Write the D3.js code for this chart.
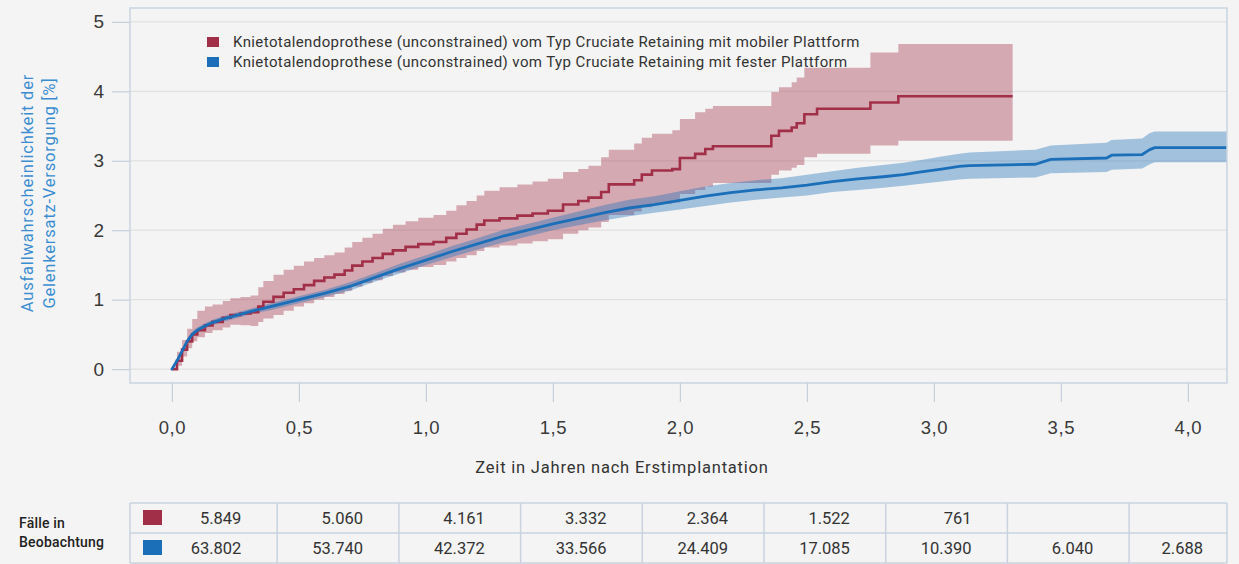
<!DOCTYPE html>
<html>
<head>
<meta charset="utf-8">
<script src="https://cdnjs.cloudflare.com/ajax/libs/d3/7.8.5/d3.min.js"></script>
<style>
  html, body { margin: 0; padding: 0; background: #f4f4f4; }
  svg { display: block; font-family: Roboto, "Open Sans", sans-serif; }
  .axis path.domain { display: none; }
  .axis line { stroke: #c6d0dc; }
  .axis text { fill: #3a3a3a; }
</style>
</head>
<body>
<script>
var w = 1239;
var h = 564;

//Legend / series names
var seriesNames = [
    "Knietotalendoprothese (unconstrained) vom Typ Cruciate Retaining mit mobiler Plattform",
    "Knietotalendoprothese (unconstrained) vom Typ Cruciate Retaining mit fester Plattform"
];

//Mobile platform: step curve (years, % failure, lower/upper CI)
var mobilTime = [0, 0.02, 0.04, 0.06, 0.08, 0.10, 0.13, 0.16, 0.20, 0.23,
    0.27, 0.31, 0.34, 0.36, 0.40, 0.44, 0.48, 0.52, 0.56, 0.60,
    0.64, 0.68, 0.71, 0.75, 0.79, 0.83, 0.87, 0.92, 0.97, 1.03,
    1.08, 1.12, 1.16, 1.20, 1.23, 1.29, 1.36, 1.42, 1.48, 1.54,
    1.60, 1.64, 1.69, 1.72, 1.82, 1.85, 1.89, 1.97, 2.00, 2.06,
    2.10, 2.13, 2.36, 2.39, 2.44, 2.46, 2.49, 2.54, 2.75, 2.86, 3.31];
var mobilRate = [0, 0.12, 0.28, 0.40, 0.50, 0.56, 0.63, 0.68, 0.74, 0.78,
    0.80, 0.82, 0.90, 0.97, 1.04, 1.10, 1.15, 1.21, 1.27, 1.32,
    1.36, 1.42, 1.49, 1.55, 1.60, 1.66, 1.71, 1.76, 1.80, 1.83,
    1.89, 1.95, 2.01, 2.08, 2.14, 2.17, 2.21, 2.24, 2.28, 2.37,
    2.42, 2.47, 2.55, 2.66, 2.72, 2.80, 2.86, 2.88, 3.04, 3.10,
    3.17, 3.21, 3.36, 3.43, 3.48, 3.54, 3.67, 3.75, 3.84, 3.93, 3.93];
var mobilLower = [0, 0.05, 0.18, 0.30, 0.40, 0.46, 0.52, 0.56, 0.60, 0.64,
    0.63, 0.62, 0.68, 0.73, 0.78, 0.84, 0.90, 0.95, 1.00, 1.04,
    1.08, 1.13, 1.19, 1.24, 1.28, 1.34, 1.39, 1.43, 1.47, 1.50,
    1.55, 1.60, 1.64, 1.70, 1.75, 1.78, 1.81, 1.84, 1.87, 1.95,
    2.00, 2.04, 2.12, 2.22, 2.27, 2.33, 2.38, 2.40, 2.52, 2.58,
    2.63, 2.68, 2.80, 2.86, 2.90, 2.94, 3.05, 3.10, 3.22, 3.29, 3.29];
var mobilUpper = [0, 0.25, 0.42, 0.58, 0.72, 0.84, 0.90, 0.93, 0.98, 1.02,
    1.04, 1.06, 1.18, 1.27, 1.36, 1.43, 1.49, 1.55, 1.60, 1.64,
    1.68, 1.75, 1.83, 1.89, 1.95, 2.02, 2.08, 2.13, 2.18, 2.22,
    2.28, 2.36, 2.42, 2.50, 2.57, 2.62, 2.66, 2.70, 2.74, 2.84,
    2.88, 2.93, 3.05, 3.16, 3.25, 3.33, 3.39, 3.44, 3.60, 3.70,
    3.75, 3.79, 3.99, 4.06, 4.13, 4.20, 4.34, 4.34, 4.56, 4.68, 4.68];

//Fixed platform
var festTime = [0, 0.02, 0.04, 0.06, 0.08, 0.10, 0.13, 0.16, 0.20, 0.25,
    0.32, 0.40, 0.50, 0.60, 0.70, 0.80, 0.90, 1.00, 1.10, 1.20,
    1.30, 1.40, 1.50, 1.60, 1.70, 1.80, 1.90, 2.00, 2.10, 2.20,
    2.30, 2.40, 2.50, 2.60, 2.70, 2.80, 2.88, 2.95, 3.03, 3.10,
    3.14, 3.40, 3.46, 3.68, 3.70, 3.82, 3.85, 3.87, 4.20];
var festRate = [0, 0.12, 0.26, 0.40, 0.50, 0.56, 0.62, 0.67, 0.72, 0.77,
    0.84, 0.91, 1.00, 1.09, 1.19, 1.32, 1.45, 1.57, 1.69, 1.80,
    1.91, 2.00, 2.09, 2.17, 2.25, 2.32, 2.37, 2.43, 2.49, 2.54,
    2.58, 2.61, 2.65, 2.70, 2.74, 2.77, 2.80, 2.84, 2.88, 2.92,
    2.93, 2.95, 3.02, 3.04, 3.08, 3.09, 3.16, 3.19, 3.19];
var festLower = [0, 0.10, 0.23, 0.36, 0.46, 0.52, 0.58, 0.63, 0.68, 0.73,
    0.80, 0.86, 0.95, 1.04, 1.13, 1.26, 1.38, 1.50, 1.61, 1.72,
    1.82, 1.91, 2.00, 2.07, 2.14, 2.20, 2.25, 2.30, 2.35, 2.40,
    2.44, 2.47, 2.50, 2.55, 2.58, 2.61, 2.64, 2.67, 2.70, 2.73,
    2.74, 2.76, 2.82, 2.84, 2.87, 2.89, 2.95, 2.98, 2.98];
var festUpper = [0, 0.14, 0.29, 0.44, 0.54, 0.60, 0.66, 0.71, 0.76, 0.81,
    0.88, 0.96, 1.05, 1.14, 1.25, 1.38, 1.52, 1.64, 1.77, 1.88,
    2.00, 2.09, 2.18, 2.27, 2.36, 2.44, 2.49, 2.56, 2.63, 2.68,
    2.72, 2.75, 2.80, 2.85, 2.90, 2.94, 2.97, 3.01, 3.06, 3.10,
    3.12, 3.16, 3.22, 3.26, 3.30, 3.32, 3.40, 3.42, 3.42];

//Ticks
var xTicks = [0, 0.5, 1, 1.5, 2, 2.5, 3, 3.5, 4];
var yTicks = [0, 1, 2, 3, 4, 5];

//Cases under observation (table)
var atRiskMobil = [5849, 5060, 4161, 3332, 2364, 1522, 761, null, null];
var atRiskFest = [63802, 53740, 42372, 33566, 24409, 17085, 10390, 6040, 2688];

var colors = ["#a22f48", "#1b6fb9"];

var de = d3.formatLocale({ decimal: ",", thousands: ".", grouping: [3], currency: ["", " €"] });
var fmtTick = de.format(".1f");
var fmtCount = de.format(",d");

var pLeft = 130, pRight = 1227, pTop = 8, pBottom = 383;

var xScale = d3.scaleLinear().domain([-0.165, 4.154]).range([pLeft, pRight]);
var yScale = d3.scaleLinear().domain([-0.2, 5.2]).range([pBottom, pTop]);

var svg = d3.select("body")
    .append("svg")
    .attr("width", w)
    .attr("height", h);

svg.append("rect")
    .attr("width", w)
    .attr("height", h)
    .attr("fill", "#f4f4f4");

svg.append("clipPath")
    .attr("id", "plotclip")
    .append("rect")
    .attr("x", pLeft)
    .attr("y", pTop)
    .attr("width", pRight - pLeft)
    .attr("height", pBottom - pTop);

//grid lines
svg.selectAll("line.grid")
    .data(yTicks)
    .enter()
    .append("line")
    .attr("class", "grid")
    .attr("x1", pLeft)
    .attr("x2", pRight)
    .attr("y1", function (d) { return yScale(d); })
    .attr("y2", function (d) { return yScale(d); })
    .attr("stroke", "#e1e1e1")
    .attr("stroke-width", 1.2);

function rows(time, rate, lo, hi) {
    return time.map(function (t, i) {
        return { t: t, v: rate[i], lo: lo[i], hi: hi[i] };
    });
}
var mobil = rows(mobilTime, mobilRate, mobilLower, mobilUpper);
var fest = rows(festTime, festRate, festLower, festUpper);

var plotG = svg.append("g").attr("clip-path", "url(#plotclip)");

var mobilArea = d3.area()
    .curve(d3.curveStepAfter)
    .x(function (d) { return xScale(d.t); })
    .y0(function (d) { return yScale(d.lo); })
    .y1(function (d) { return yScale(d.hi); });
var festArea = d3.area()
    .x(function (d) { return xScale(d.t); })
    .y0(function (d) { return yScale(d.lo); })
    .y1(function (d) { return yScale(d.hi); });

plotG.append("path")
    .datum(mobil)
    .attr("d", mobilArea)
    .attr("fill", colors[0])
    .attr("fill-opacity", 0.38);

plotG.append("path")
    .datum(fest)
    .attr("d", festArea)
    .attr("fill", colors[1])
    .attr("fill-opacity", 0.38);

plotG.append("path")
    .datum(mobil)
    .attr("d", d3.line()
        .curve(d3.curveStepAfter)
        .x(function (d) { return xScale(d.t); })
        .y(function (d) { return yScale(d.v); }))
    .attr("fill", "none")
    .attr("stroke", colors[0])
    .attr("stroke-width", 2.6);

plotG.append("path")
    .datum(fest)
    .attr("d", d3.line()
        .x(function (d) { return xScale(d.t); })
        .y(function (d) { return yScale(d.v); }))
    .attr("fill", "none")
    .attr("stroke", colors[1])
    .attr("stroke-width", 2.8)
    .attr("stroke-linejoin", "round")
    .attr("stroke-linecap", "round");

//frame
svg.append("rect")
    .attr("x", pLeft)
    .attr("y", pTop)
    .attr("width", pRight - pLeft)
    .attr("height", pBottom - pTop)
    .attr("fill", "none")
    .attr("stroke", "#c9d3df")
    .attr("stroke-width", 1.5);

//axes
var yaxis = d3.axisLeft(yScale)
    .tickValues(yTicks)
    .tickSize(18)
    .tickPadding(8)
    .tickFormat(d3.format("d"));

svg.append("g")
    .attr("class", "axis")
    .attr("transform", "translate(" + pLeft + ",0)")
    .call(yaxis)
    .selectAll("text")
    .attr("font-size", "19px");

var xaxis = d3.axisBottom(xScale)
    .tickValues(xTicks)
    .tickSize(19)
    .tickPadding(19)
    .tickFormat(fmtTick);

svg.append("g")
    .attr("class", "axis")
    .attr("transform", "translate(0," + pBottom + ")")
    .call(xaxis)
    .selectAll("text")
    .attr("font-size", "18.5px")
    .attr("letter-spacing", "0.6px");

svg.selectAll(".axis line").attr("stroke-width", 1.2);

//axis titles
svg.append("text")
    .attr("x", 622)
    .attr("y", 473)
    .attr("text-anchor", "middle")
    .attr("font-size", "16.5px")
    .attr("letter-spacing", "0.8px")
    .attr("fill", "#333")
    .text("Zeit in Jahren nach Erstimplantation");

var yTitle = svg.append("text")
    .attr("transform", "translate(0,193) rotate(-90)")
    .attr("text-anchor", "middle")
    .attr("font-size", "16.5px")
    .attr("letter-spacing", "0.8px")
    .attr("fill", "#3b8dd1");
yTitle.append("tspan").attr("x", 0).attr("y", 33).text("Ausfallwahrscheinlichkeit der");
yTitle.append("tspan").attr("x", 0).attr("y", 55).text("Gelenkersatz-Versorgung [%]");

//legend
var legend = svg.selectAll("g.legend")
    .data(seriesNames)
    .enter()
    .append("g")
    .attr("class", "legend")
    .attr("transform", function (d, i) { return "translate(207," + (37 + i * 20) + ")"; });

legend.append("rect")
    .attr("width", 12)
    .attr("height", 10)
    .attr("fill", function (d, i) { return colors[i]; });

legend.append("text")
    .attr("x", 26)
    .attr("y", 10)
    .attr("font-size", "15px")
    .attr("letter-spacing", "0.4px")
    .attr("fill", "#333")
    .text(function (d) { return d; });

//table of cases
var tableTop = 503, rowH = 30;
var colScale = d3.scaleBand()
    .domain(d3.range(atRiskFest.length))
    .range([155.5, 155.5 + 121.7 * atRiskFest.length]);

var tableG = svg.append("g");

tableG.selectAll("line.row")
    .data([0, 1, 2])
    .enter()
    .append("line")
    .attr("x1", pLeft)
    .attr("x2", pRight)
    .attr("y1", function (d) { return tableTop + d * rowH; })
    .attr("y2", function (d) { return tableTop + d * rowH; })
    .attr("stroke", "#c9d3df")
    .attr("stroke-width", 1.5);

var seps = [pLeft].concat(colScale.domain().map(function (i) {
    return Math.min(colScale(i) + colScale.bandwidth(), pRight);
}));
tableG.selectAll("line.col")
    .data(seps)
    .enter()
    .append("line")
    .attr("x1", function (d) { return d; })
    .attr("x2", function (d) { return d; })
    .attr("y1", tableTop)
    .attr("y2", tableTop + 2 * rowH)
    .attr("stroke", "#c9d3df")
    .attr("stroke-width", 1.5);

[atRiskMobil, atRiskFest].forEach(function (row, r) {
    var cy = tableTop + r * rowH + rowH / 2;
    tableG.append("rect")
        .attr("x", 143)
        .attr("y", cy - 8)
        .attr("width", 19)
        .attr("height", 15)
        .attr("fill", colors[r]);
    tableG.selectAll("text.r" + r)
        .data(row)
        .enter()
        .append("text")
        .attr("class", "r" + r)
        .attr("x", function (d, i) {
            var x0 = colScale(i), x1 = Math.min(x0 + colScale.bandwidth(), pRight);
            return (x0 + x1) / 2 + 25;
        })
        .attr("y", cy + 6)
        .attr("text-anchor", "end")
        .attr("font-size", "16.5px")
        .attr("fill", "#333")
        .text(function (d) { return d == null ? "" : fmtCount(d); });
});

var caseLabel = svg.append("text")
    .attr("font-size", "14px")
    .attr("font-weight", 500)
    .attr("letter-spacing", "0.2px")
    .attr("fill", "#222");
caseLabel.append("tspan").attr("x", 19).attr("y", 528).text("Fälle in");
caseLabel.append("tspan").attr("x", 19).attr("y", 547).text("Beobachtung");
</script>
</body>
</html>
